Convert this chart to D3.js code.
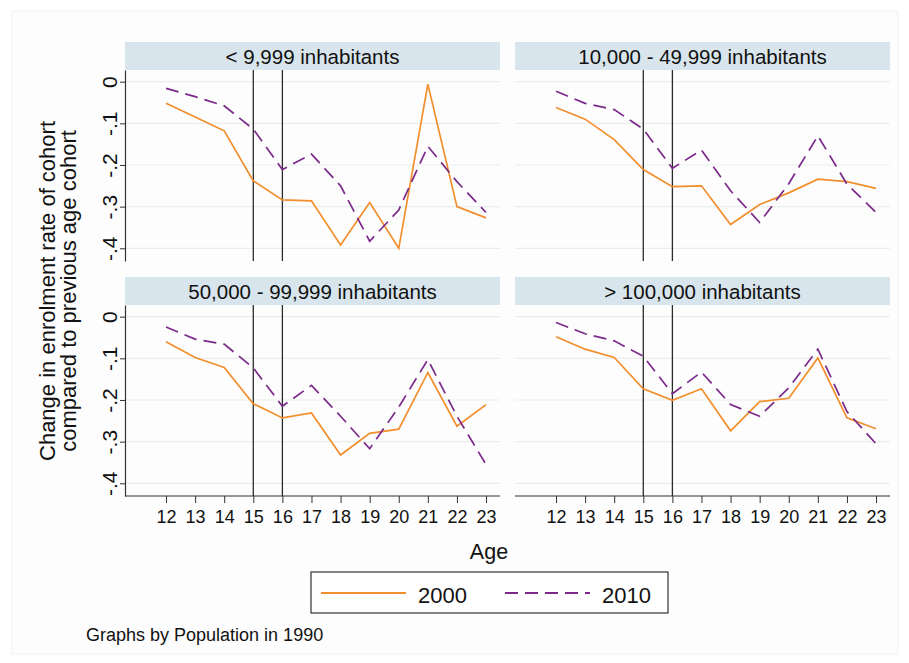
<!DOCTYPE html>
<html>
<head>
<meta charset="utf-8">
<script src="https://cdn.jsdelivr.net/npm/d3@7"></script>
<style>
  body { margin: 0; background: #fff; }
  text { font-family: "Liberation Sans", Arial, Helvetica, sans-serif; fill: #111; }
</style>
</head>
<body>
<svg id="chart" width="909" height="663"></svg>
<script>
// categories
var ages = [12, 13, 14, 15, 16, 17, 18, 19, 20, 21, 22, 23]
var panelTitles = ['< 9,999 inhabitants', '10,000 - 49,999 inhabitants',
  '50,000 - 99,999 inhabitants', '> 100,000 inhabitants']
var yTicks = [0, -0.1, -0.2, -0.3, -0.4]
var yTickLabels = ['0', '-.1', '-.2', '-.3', '-.4']
var markAges = [15, 16]
var seriesNames = ['2000', '2010']

// series values
var small2000 = [-0.052, -0.085, -0.118, -0.238, -0.284, -0.286, -0.392, -0.290, -0.400, -0.006, -0.300, -0.327]
var small2010 = [-0.016, -0.036, -0.058, -0.114, -0.211, -0.174, -0.250, -0.383, -0.308, -0.155, -0.240, -0.314]
var mid2000 = [-0.062, -0.090, -0.139, -0.211, -0.252, -0.250, -0.343, -0.295, -0.267, -0.234, -0.240, -0.256]
var mid2010 = [-0.023, -0.052, -0.067, -0.114, -0.208, -0.164, -0.262, -0.338, -0.245, -0.130, -0.246, -0.314]
var large2000 = [-0.060, -0.098, -0.122, -0.209, -0.243, -0.231, -0.332, -0.280, -0.270, -0.134, -0.263, -0.211]
var large2010 = [-0.025, -0.054, -0.066, -0.123, -0.215, -0.165, -0.239, -0.317, -0.217, -0.103, -0.239, -0.355]
var city2000 = [-0.048, -0.078, -0.098, -0.173, -0.201, -0.173, -0.274, -0.204, -0.196, -0.099, -0.243, -0.269]
var city2010 = [-0.014, -0.041, -0.058, -0.095, -0.185, -0.133, -0.211, -0.239, -0.171, -0.078, -0.228, -0.305]

var panelData = [[small2000, small2010], [mid2000, mid2010], [large2000, large2010], [city2000, city2010]]

var colors = ['#f28e2c', '#7b2a8a']
var dashes = [null, '13,7']

var svg = d3.select('#chart')

// faint outer frame
svg.append('rect')
  .attr('x', 12).attr('y', 11).attr('width', 886).attr('height', 643)
  .attr('fill', '#fdfdfd').attr('stroke', '#f1f1f1')

// panel layout
var panelW = 375
var headH = 28
var plotH = 191
var lefts = [125, 515]
var tops = [42, 277]

// scales shared by all panels (relative to panel origin)
var x = d3.scaleLinear().domain([10.59, 23.48]).range([0, panelW])
var y = d3.scaleLinear().domain([0.028, -0.4305]).range([0, plotH])

var lineGen = d3.line()
  .x(function (d) { return x(d.age) })
  .y(function (d) { return y(d.v) })

panelTitles.forEach(function (title, i) {
  var col = i % 2
  var row = Math.floor(i / 2)
  var g = svg.append('g')
    .attr('transform', 'translate(' + lefts[col] + ',' + tops[row] + ')')

  // header strip
  g.append('rect')
    .attr('x', 0).attr('y', 0).attr('width', panelW).attr('height', headH)
    .attr('fill', '#d9e5ec')
  g.append('text')
    .attr('x', panelW / 2).attr('y', headH / 2 + 7.5)
    .attr('text-anchor', 'middle')
    .style('font-size', '20.5px')
    .text(title)

  var p = g.append('g').attr('transform', 'translate(0,' + headH + ')')

  // gridlines
  p.selectAll('line.grid').data(yTicks).enter().append('line')
    .attr('class', 'grid')
    .attr('x1', 0).attr('x2', panelW)
    .attr('y1', function (d) { return y(d) }).attr('y2', function (d) { return y(d) })
    .attr('stroke', '#eceeee').attr('stroke-width', 1.2)

  // y axis on the left column
  if (col === 0) {
    var yAxis = d3.axisLeft(y).tickValues(yTicks)
      .tickFormat(function (d, k) { return yTickLabels[k] })
      .tickSize(5).tickSizeOuter(0)
    var ya = p.append('g').call(yAxis)
    ya.select('.domain').attr('stroke', '#333').attr('stroke-width', 1.2)
    ya.selectAll('.tick line').attr('stroke', '#333')
    ya.selectAll('.tick text')
      .attr('x', null).attr('dy', null)
      .attr('transform', 'translate(-16,0) rotate(-90)')
      .attr('text-anchor', 'middle')
      .attr('dominant-baseline', 'central')
      .style('font-size', '21px')
      .style('font-family', '"Liberation Sans", Arial, sans-serif')
  }

  // x axis on the bottom row
  if (row === 1) {
    var xAxis = d3.axisBottom(x).tickValues(ages)
      .tickFormat(d3.format('d')).tickSize(7).tickSizeOuter(0)
    var xa = p.append('g').attr('transform', 'translate(0,' + plotH + ')').call(xAxis)
    xa.select('.domain').attr('stroke', '#333').attr('stroke-width', 1.2)
      .attr('d', 'M0,0H' + panelW)
    xa.selectAll('.tick line').attr('stroke', '#333')
    xa.selectAll('.tick text')
      .attr('y', 14)
      .style('font-size', '18px')
      .style('font-family', '"Liberation Sans", Arial, sans-serif')
  }

  // vertical reference lines
  p.selectAll('line.mark').data(markAges).enter().append('line')
    .attr('class', 'mark')
    .attr('x1', function (d) { return x(d) }).attr('x2', function (d) { return x(d) })
    .attr('y1', 0).attr('y2', plotH)
    .attr('stroke', '#2b2b2b').attr('stroke-width', 1.3)

  // series lines
  panelData[i].forEach(function (vals, s) {
    var pts = ages.map(function (a, k) { return { age: a, v: vals[k] } })
    p.append('path')
      .attr('d', lineGen(pts))
      .attr('fill', 'none')
      .attr('stroke', colors[s])
      .attr('stroke-width', 1.7)
      .attr('stroke-dasharray', dashes[s])
      .attr('stroke-linejoin', 'miter')
  })
})

// y axis title
var yt = svg.append('text')
  .attr('transform', 'translate(55,291) rotate(-90)')
  .attr('text-anchor', 'middle')
  .style('font-size', '22px')
yt.append('tspan').attr('x', 0).attr('dy', 0).text('Change in enrolment rate of cohort')
yt.append('tspan').attr('x', 0).attr('dy', 21).text('compared to previous age cohort')

// x axis title
svg.append('text')
  .attr('x', 489).attr('y', 559)
  .attr('text-anchor', 'middle')
  .style('font-size', '21.5px')
  .text('Age')

// legend
var lg = svg.append('g').attr('transform', 'translate(311,572)')
lg.append('rect')
  .attr('width', 357).attr('height', 41)
  .attr('fill', '#fff').attr('stroke', '#333').attr('stroke-width', 1.2)
var legX = [10, 194]
seriesNames.forEach(function (name, s) {
  lg.append('line')
    .attr('x1', legX[s]).attr('x2', legX[s] + 85)
    .attr('y1', 21).attr('y2', 21)
    .attr('stroke', colors[s]).attr('stroke-width', 2)
    .attr('stroke-dasharray', dashes[s])
  lg.append('text')
    .attr('x', legX[s] + 97).attr('y', 30.5)
    .style('font-size', '22px')
    .text(name)
})

// note
svg.append('text')
  .attr('x', 86).attr('y', 641)
  .style('font-size', '18px')
  .text('Graphs by Population in 1990')
</script>
</body>
</html>
